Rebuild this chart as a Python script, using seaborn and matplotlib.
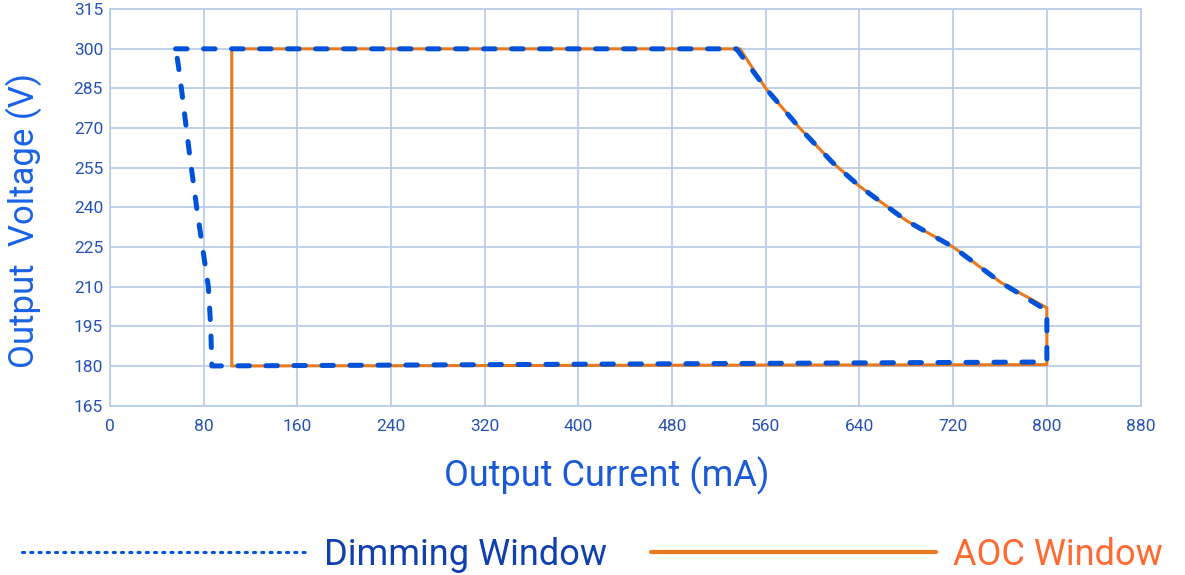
import numpy as np
import pandas as pd
import matplotlib.pyplot as plt
import seaborn as sns
from matplotlib.lines import Line2D

# Dimming window outline (mA, V), traced clockwise from top-left
dim_current = [56, 535, 560, 589, 617, 640, 680, 720, 761, 800, 800, 87, 86, 84, 80, 74, 68, 61, 58, 56]
dim_voltage = [300, 300, 285, 270, 257, 248, 235, 225, 211.5, 201, 181.5, 180, 195, 210, 222, 240, 260, 285, 295, 300]

# AOC window outline
aoc_current = [104, 538, 560, 589, 617, 640, 680, 720, 761, 800, 800, 104, 104]
aoc_voltage = [300, 300, 285, 270, 257, 248, 235, 225, 211.5, 202, 180.5, 180, 300]

x_ticks = list(range(0, 881, 80))
y_ticks = list(range(165, 316, 15))

sns.set_style("white")
plt.rcParams['font.family'] = ['Roboto', 'DejaVu Sans']

fig, ax = plt.subplots(figsize=(11.85, 5.75), dpi=100)
fig.subplots_adjust(left=0.0928, right=0.9625, top=0.984, bottom=0.2946)

grid_col = '#BACDEA'
orange = '#E8791F'
blue = '#0052D9'

aoc = pd.DataFrame({'I': aoc_current, 'V': aoc_voltage})
dim = pd.DataFrame({'I': dim_current, 'V': dim_voltage})

sns.lineplot(data=aoc, x='I', y='V', sort=False, estimator=None, color=orange, lw=2.2, ax=ax, zorder=3)
sns.lineplot(data=dim, x='I', y='V', sort=False, estimator=None, color=blue, lw=3.6, ax=ax, zorder=4)
ax.lines[-1].set_dashes([2.3, 3.3])
ax.lines[-1].set_dash_capstyle('round')
ax.lines[-1].set_solid_joinstyle('round')

ax.set_xlim(0, 880)
ax.set_ylim(165, 315)
ax.set_xticks(x_ticks)
ax.set_yticks(y_ticks)
ax.grid(True, color=grid_col, lw=1.3)
for s in ax.spines.values():
    s.set_color(grid_col)
    s.set_linewidth(1.3)
ax.tick_params(axis='both', length=0, labelsize=12.5, labelcolor='#2652B8')
ax.tick_params(axis='y', pad=5)
ax.tick_params(axis='x', pad=10)

ax.set_xlabel('Output Current (mA)', fontsize=26, color='#1A5AD6')
ax.xaxis.set_label_coords(0.482, -0.128)
ax.set_ylabel('Output  Voltage (V)', fontsize=25, color='#1A62E6')
ax.yaxis.set_label_coords(-0.066, 0.468)

handles = [Line2D([], [], color=blue, lw=2.2, dashes=[0.7, 2.0], dash_capstyle='round'),
           Line2D([], [], color=orange, lw=3)]
leg = fig.legend(handles, ['Dimming Window', 'AOC Window'], loc='center',
                 bbox_to_anchor=(0.5, 0.035), ncol=2, frameon=False, fontsize=26,
                 handlelength=7.9, handletextpad=0.47, columnspacing=1.2,
                 labelcolor=['#1040B0', '#FF6A33'])

fig.savefig('out.png', dpi=100)
